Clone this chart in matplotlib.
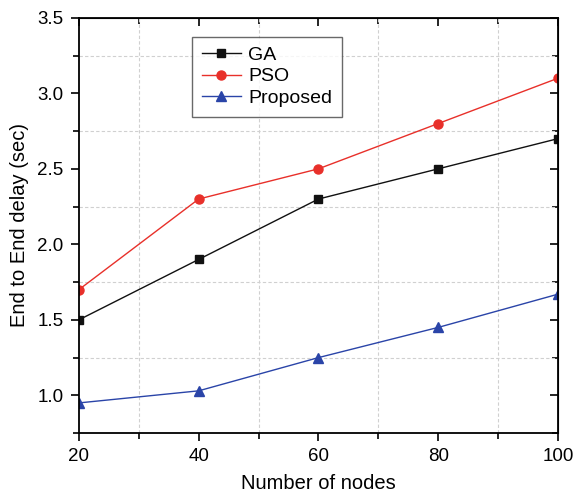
import matplotlib
matplotlib.use("Agg")
import matplotlib.pyplot as plt
from matplotlib.ticker import MultipleLocator

plt.rcParams['font.family'] = ['Liberation Sans', 'DejaVu Sans']

nodes = [20, 40, 60, 80, 100]
ga = [1.5, 1.9, 2.3, 2.5, 2.7]
pso = [1.7, 2.3, 2.5, 2.8, 3.1]
proposed = [0.95, 1.03, 1.25, 1.45, 1.67]

fig = plt.figure(figsize=(5.8, 4.95), dpi=100)
ax = fig.add_axes([0.136, 0.125, 0.826, 0.839])

ax.plot(nodes, ga, color='#111111', marker='s', markersize=6, linewidth=1, label='GA')
ax.plot(nodes, pso, color='#e8302a', marker='o', markersize=6.5, linewidth=1, label='PSO')
ax.plot(nodes, proposed, color='#2a44a8', marker='^', markersize=7, linewidth=1, label='Proposed')

ax.set_xlim(20, 100)
ax.set_ylim(0.75, 3.5)
ax.xaxis.set_major_locator(MultipleLocator(20))
ax.xaxis.set_minor_locator(MultipleLocator(10))
ax.yaxis.set_major_locator(MultipleLocator(0.5))
ax.yaxis.set_minor_locator(MultipleLocator(0.25))
ax.yaxis.set_major_formatter(matplotlib.ticker.FormatStrFormatter('%.1f'))

ax.grid(which='minor', linestyle=(0, (3, 2)), color='#d0d0d0', linewidth=0.8)
ax.grid(which='major', visible=False)

for s in ax.spines.values():
    s.set_linewidth(1.3)

ax.tick_params(which='both', direction='out', bottom=True, left=True, top=False, right=False, width=1.2)
ax.tick_params(which='major', length=6, labelsize=13.5, pad=5)
ax.tick_params(which='minor', length=4)

sec_x = ax.secondary_xaxis('top')
sec_x.xaxis.set_major_locator(MultipleLocator(20))
sec_x.xaxis.set_minor_locator(MultipleLocator(10))
sec_x.tick_params(which='both', direction='in', labeltop=False, width=1.2)
sec_x.tick_params(which='major', length=6)
sec_x.tick_params(which='minor', length=4)
sec_y = ax.secondary_yaxis('right')
sec_y.yaxis.set_major_locator(MultipleLocator(0.5))
sec_y.yaxis.set_minor_locator(MultipleLocator(0.25))
sec_y.tick_params(which='both', direction='in', labelright=False, width=1.2)
sec_y.tick_params(which='major', length=6)
sec_y.tick_params(which='minor', length=4)

ax.set_xlabel('Number of nodes', fontsize=14.5, labelpad=6)
ax.set_ylabel('End to End delay (sec)', fontsize=14.5, labelpad=6)

leg = ax.legend(loc='upper left', bbox_to_anchor=(0.236, 0.955), fontsize=14,
                frameon=True, fancybox=False, edgecolor='#444444', handlelength=2.0,
                handletextpad=0.4, borderpad=0.5, labelspacing=0.2, borderaxespad=0)
leg.get_frame().set_linewidth(1.0)

fig.savefig('out.png', dpi=100)
